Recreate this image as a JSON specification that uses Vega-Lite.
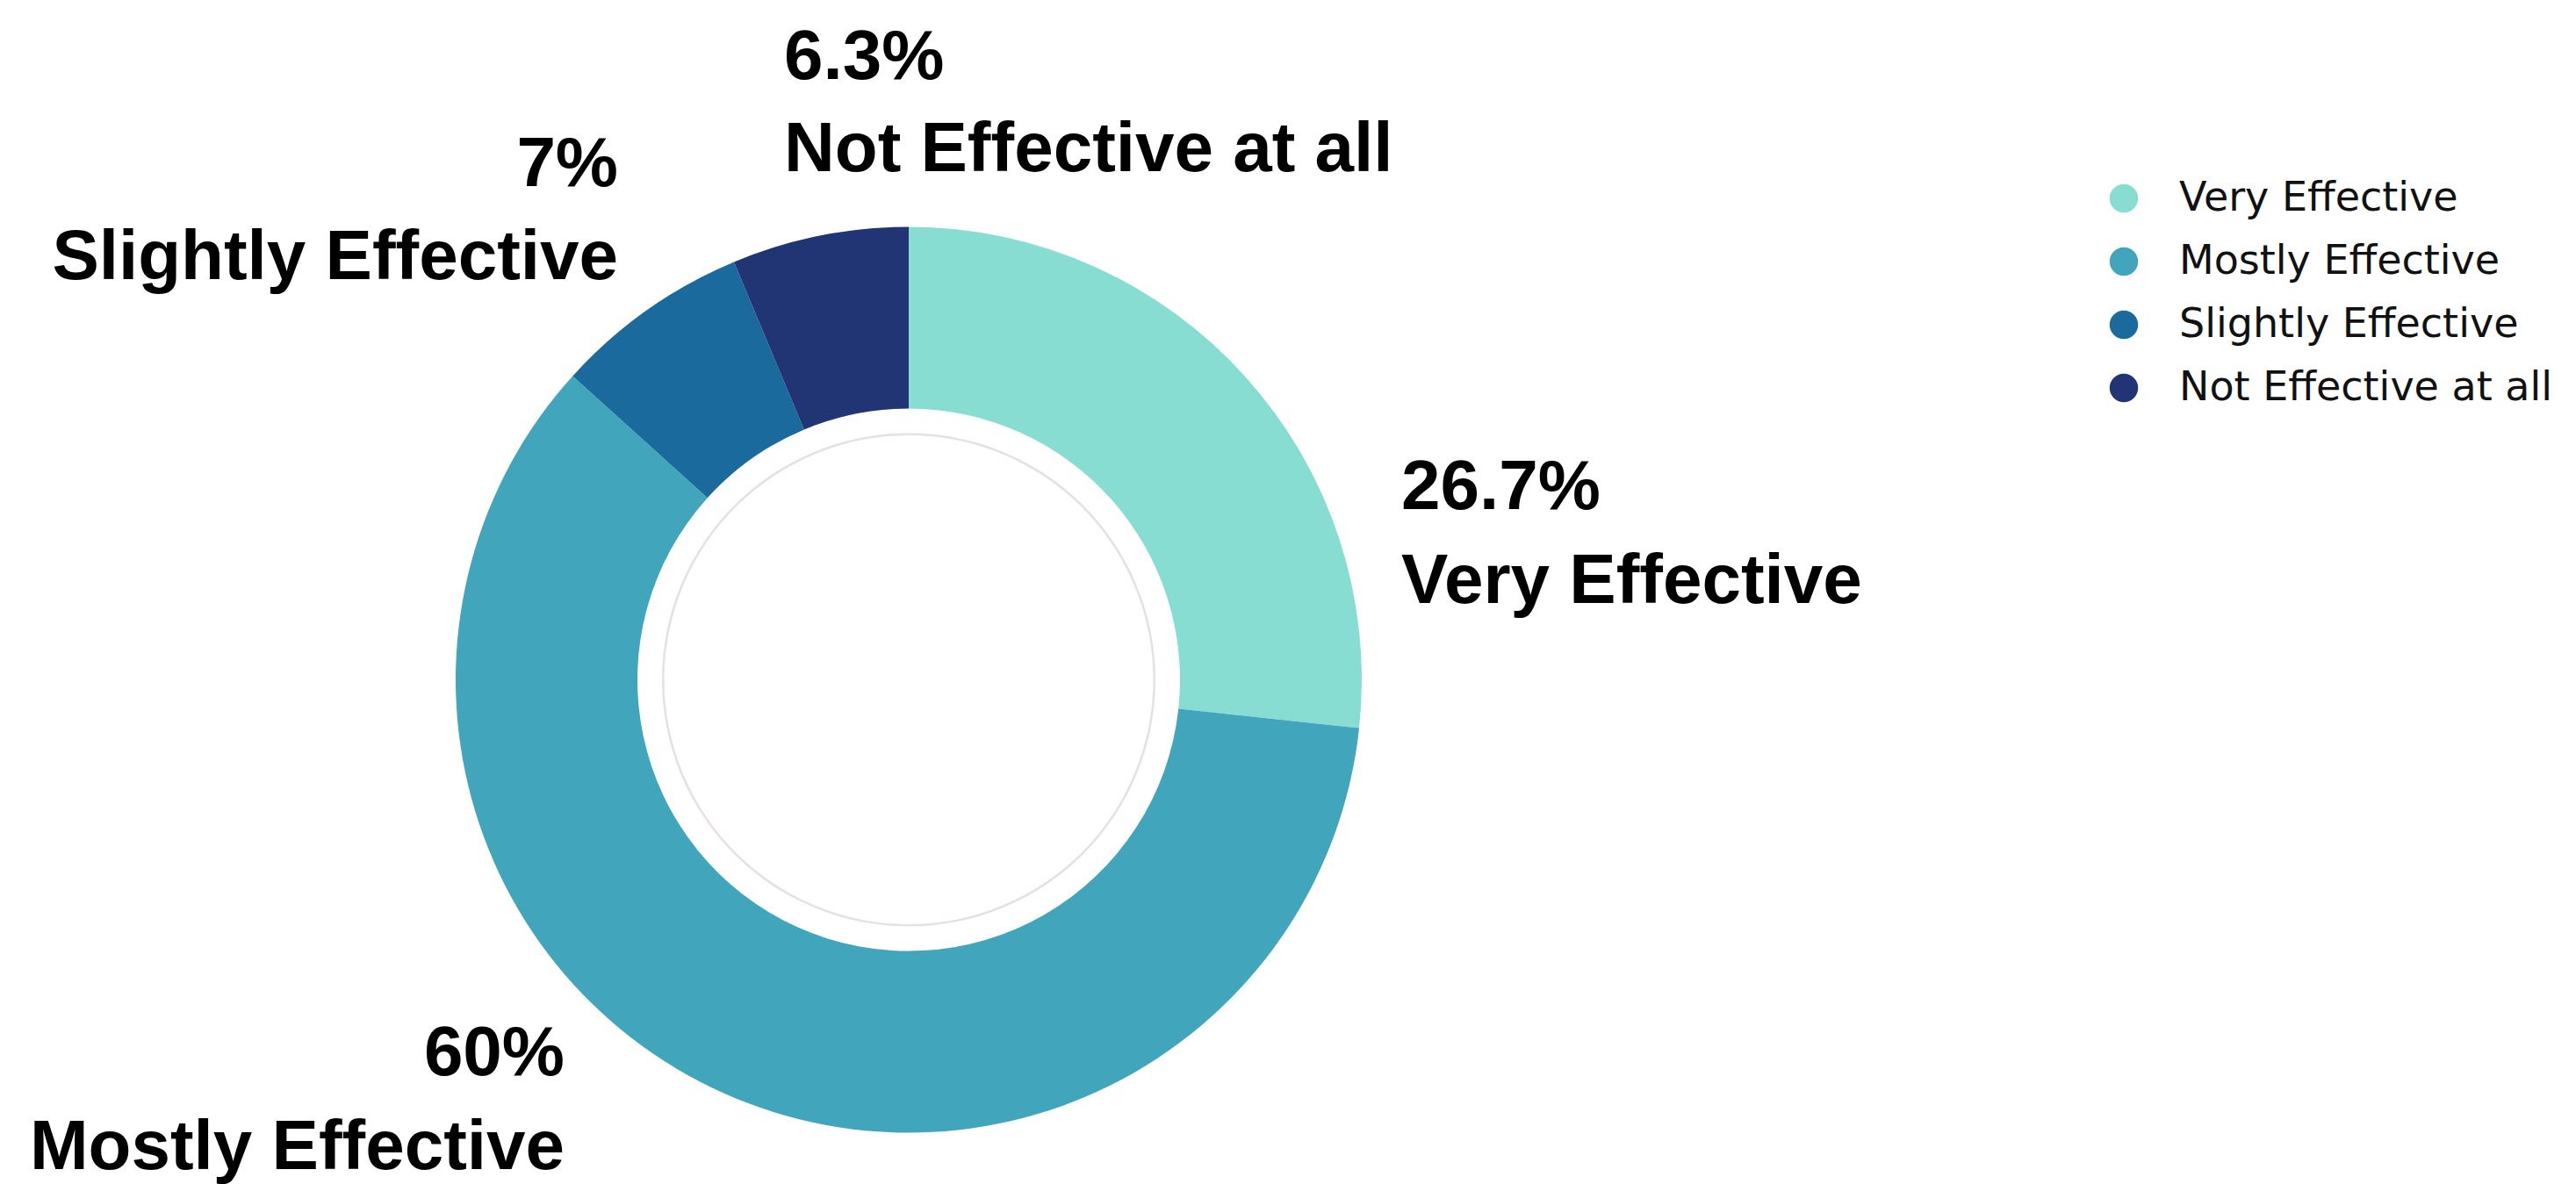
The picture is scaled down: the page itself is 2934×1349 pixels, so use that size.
{
  "$schema": "https://vega.github.io/schema/vega-lite/v6.json",
  "width": 2070,
  "height": 1149,
  "autosize": {"type": "none"},
  "padding": {"top": 200, "left": 0, "right": 864, "bottom": 0},
  "background": "white",
  "config": {"view": {"stroke": null}},
  "data": {"values": [
    {"category": "Very Effective", "pct": 26.7, "rank": 1, "label": "26.7%"},
    {"category": "Mostly Effective", "pct": 60, "rank": 2, "label": "60%"},
    {"category": "Slightly Effective", "pct": 7, "rank": 3, "label": "7%"},
    {"category": "Not Effective at all", "pct": 6.3, "rank": 4, "label": "6.3%"}
  ]},
  "resolve": {"scale": {"theta": "independent"}},
  "layer": [
    {
      "mark": {"type": "arc", "radius": 516, "radius2": 309, "stroke": null},
      "encoding": {
        "theta": {"field": "pct", "type": "quantitative", "stack": true},
        "order": {"field": "rank", "type": "quantitative"},
        "color": {
          "field": "category", "type": "nominal",
          "scale": {
            "domain": ["Very Effective", "Mostly Effective", "Slightly Effective", "Not Effective at all"],
            "range": ["#88DDD3", "#41A5BB", "#1B6A9D", "#213473"]
          },
          "legend": {
            "orient": "none", "legendX": 2396, "legendY": 3, "title": null,
            "symbolType": "circle", "symbolSize": 1050, "symbolStrokeWidth": 0,
            "labelFont": "DejaVu Sans", "labelFontSize": 46, "labelColor": "#111111",
            "labelLimit": 0, "labelOffset": 40, "rowPadding": 26, "padding": 0
          }
        }
      }
    },
    {
      "data": {"values": [{"ring": 1}]},
      "mark": {"type": "arc", "radius": 281, "radius2": 278.5, "color": "#e5e0e5"},
      "encoding": {"theta": {"field": "ring", "type": "quantitative", "stack": true}}
    },
    {
      "transform": [
        {"filter": "datum.category === 'Very Effective'"},
        {"calculate": "[datum.label, datum.category]", "as": "lines"}
      ],
      "mark": {"type": "text", "align": "left", "baseline": "alphabetic", "dx": 561, "dy": -195, "font": "Liberation Sans", "fontWeight": "bold", "fontSize": 80, "lineHeight": 107, "color": "#000000"},
      "encoding": {"text": {"field": "lines"}}
    },
    {
      "transform": [
        {"filter": "datum.category === 'Mostly Effective'"},
        {"calculate": "[datum.label, datum.category]", "as": "lines"}
      ],
      "mark": {"type": "text", "align": "right", "baseline": "alphabetic", "dx": -392, "dy": 450, "font": "Liberation Sans", "fontWeight": "bold", "fontSize": 80, "lineHeight": 107, "color": "#000000"},
      "encoding": {"text": {"field": "lines"}}
    },
    {
      "transform": [
        {"filter": "datum.category === 'Slightly Effective'"},
        {"calculate": "[datum.label, datum.category]", "as": "lines"}
      ],
      "mark": {"type": "text", "align": "right", "baseline": "alphabetic", "dx": -331, "dy": -563, "font": "Liberation Sans", "fontWeight": "bold", "fontSize": 80, "lineHeight": 106, "color": "#000000"},
      "encoding": {"text": {"field": "lines"}}
    },
    {
      "transform": [
        {"filter": "datum.category === 'Not Effective at all'"},
        {"calculate": "[datum.label, datum.category]", "as": "lines"}
      ],
      "mark": {"type": "text", "align": "left", "baseline": "alphabetic", "dx": -142, "dy": -685, "font": "Liberation Sans", "fontWeight": "bold", "fontSize": 80, "lineHeight": 105, "color": "#000000"},
      "encoding": {"text": {"field": "lines"}}
    }
  ]
}
